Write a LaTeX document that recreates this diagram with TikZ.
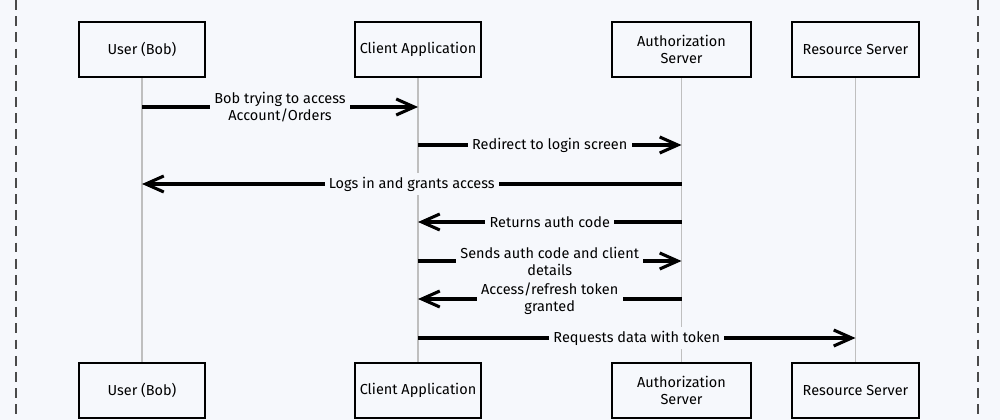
\documentclass[tikz,border=0pt]{standalone}
\usepackage{fontspec}
\setmainfont{Fira Sans}
\usetikzlibrary{positioning,arrows.meta}
\definecolor{canvas}{HTML}{F6F8FC}
\definecolor{frame}{HTML}{4A4A4A}
\tikzset{
  actor box/.style={
    draw, fill=canvas, line width=1.6pt,
    minimum width={#1*0.025cm},
    minimum height={1.375cm},
    align=center,
    font=\fontsize{10.3}{12.5}\selectfont,
  },
  lifeline/.style={
    draw=gray!50, line width=0.8pt,
  },
  message/.style={
    line width=2.2pt,
    -{Straight Barb[length=4.5mm, width=4mm]},
  },
  msg label/.style={
    fill=canvas, align=center, inner sep=3pt,
    font=\fontsize{10.3}{12}\selectfont,
  },
  border/.style={
    draw=frame, line width=1pt, dash pattern=on 7pt off 4.5pt,
  }
}

\begin{document}
\begin{tikzpicture}[x=0.025cm, y=-0.025cm]
        \path [fill=canvas, use as bounding box] (0,0) rectangle (1000,420);
        \draw [border] (16,0) -- (16,420);
        \draw [border] (978,0) -- (978,420);

        % participants, top and bottom
        \node [actor box=126] (user top) at (142,49.5) {User (Bob)};
        \node [actor box=126] (client top) at (418,49.5) {Client Application};
        \node [actor box=139] (auth top) at (681.5,49.5) {Authorization\\Server};
        \node [actor box=127] (res top) at (855.5,49.5) {Resource Server};

        \node [actor box=126] (user bottom) at (142,390.5) {User (Bob)};
        \node [actor box=126] (client bottom) at (418,390.5) {Client Application};
        \node [actor box=139] (auth bottom) at (681.5,390.5) {Authorization\\Server};
        \node [actor box=127] (res bottom) at (855.5,390.5) {Resource Server};

        \draw [lifeline] (user top) -- (user bottom);
        \draw [lifeline] (client top) -- (client bottom);
        \draw [lifeline] (auth top) -- (auth bottom);
        \draw [lifeline] (res top) -- (res bottom);

        % message levels
        \coordinate (m1) at (0,107);
        \coordinate (m2) at (0,145);
        \coordinate (m3) at (0,184);
        \coordinate (m4) at (0,222);
        \coordinate (m5) at (0,261);
        \coordinate (m6) at (0,299);
        \coordinate (m7) at (0,338);

        \draw [message] (user top |- m1) -- (client top |- m1)
          node [msg label, midway] {Bob trying to access\\Account/Orders};
        \draw [message] (client top |- m2) -- (auth top |- m2)
          node [msg label, midway] {Redirect to login screen};
        \draw [message] (auth top |- m3) -- (user top |- m3)
          node [msg label, midway] {Logs in and grants access};
        \draw [message] (auth top |- m4) -- (client top |- m4)
          node [msg label, midway] {Returns auth code};
        \draw [message] (client top |- m5) -- (auth top |- m5)
          node [msg label, midway] {Sends auth code and client\\details};
        \draw [message] (auth top |- m6) -- (client top |- m6)
          node [msg label, midway] {Access/refresh token\\granted};
        \draw [message] (client top |- m7) -- (res top |- m7)
          node [msg label, midway] {Requests data with token};
      \end{tikzpicture}
\end{document}
